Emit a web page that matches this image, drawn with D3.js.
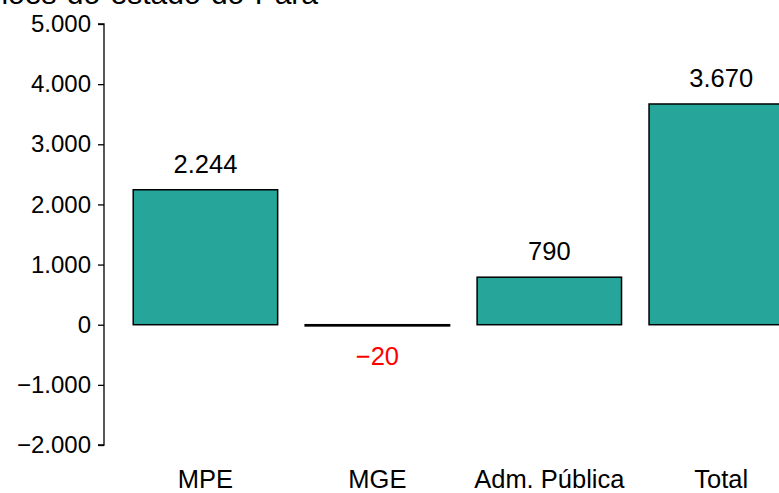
<!DOCTYPE html>
<html>
<head>
<meta charset="utf-8">
<script src="https://cdn.jsdelivr.net/npm/d3@7"></script>
<style>
  body { margin: 0; background: #fff; }
  svg { display: block; font-family: "Liberation Sans", Arial, sans-serif; }
</style>
</head>
<body>
<div id="chart"></div>
<script>
// data
var categories = ["MPE", "MGE", "Adm. Pública", "Total"];
var values = [2244, -20, 790, 3670];
var yTicks = [-2000, -1000, 0, 1000, 2000, 3000, 4000, 5000];
var title = "Saldo de empregos formais por porte nas regiões do estado do Pará";

var width = 779, height = 493;

var svg = d3.select("#chart").append("svg")
    .attr("width", width)
    .attr("height", height);

// number format pt-BR
var ptBR = d3.formatLocale({decimal: ",", thousands: ".", grouping: [3], currency: ["R$", ""], minus: "\u2212"});
var fmt = ptBR.format(",d");

var x = d3.scaleBand()
    .domain(categories)
    .range([104, 822.7])
    .paddingInner(0.16)
    .paddingOuter(0.17);

var y = d3.scaleLinear()
    .domain([-2000, 5000])
    .range([445, 24]);

// title (cut at the top)
svg.append("text")
    .attr("x", 318)
    .attr("y", 4)
    .attr("text-anchor", "end")
    .attr("font-size", 30)
    .attr("word-spacing", 2)
    .attr("fill", "#000")
    .text(title);

// y axis
var yAxis = svg.append("g")
    .attr("transform", "translate(104,0)")
    .call(d3.axisLeft(y).tickValues(yTicks).tickSize(6).tickPadding(7).tickFormat(fmt));
yAxis.select(".domain").attr("stroke", "#000").attr("stroke-width", 1.3)
    .attr("d", "M-6," + y(5000) + "H0V" + y(-2000) + "H-6");
yAxis.selectAll(".tick line").attr("stroke", "#000").attr("stroke-width", 1.3);
yAxis.selectAll(".tick text")
    .attr("font-size", 24)
    .attr("font-family", "Liberation Sans, Arial, sans-serif")
    .attr("fill", "#000");

// bars
svg.selectAll(".bar")
    .data(values)
    .enter().append("rect")
    .attr("class", "bar")
    .attr("x", function(d, i) { return x(categories[i]); })
    .attr("y", function(d) { return y(Math.max(d, 0)); })
    .attr("width", x.bandwidth())
    .attr("height", function(d) { return Math.abs(y(d) - y(0)); })
    .attr("fill", "#26A69A")
    .attr("stroke", "#000")
    .attr("stroke-width", 1.5);

// value labels
svg.selectAll(".lbl")
    .data(values)
    .enter().append("text")
    .attr("class", "lbl")
    .attr("x", function(d, i) { return x(categories[i]) + x.bandwidth() / 2; })
    .attr("y", function(d) { return d >= 0 ? y(d) - 17 : y(d) + 39; })
    .attr("text-anchor", "middle")
    .attr("font-size", 25.5)
    .attr("fill", function(d) { return d < 0 ? "#ff0000" : "#000"; })
    .text(function(d) { return fmt(d); });

// category labels
svg.selectAll(".cat")
    .data(categories)
    .enter().append("text")
    .attr("class", "cat")
    .attr("x", function(d) { return x(d) + x.bandwidth() / 2; })
    .attr("y", 488)
    .attr("text-anchor", "middle")
    .attr("font-size", 25.5)
    .attr("fill", "#000")
    .text(function(d) { return d; });
</script>
</body>
</html>
